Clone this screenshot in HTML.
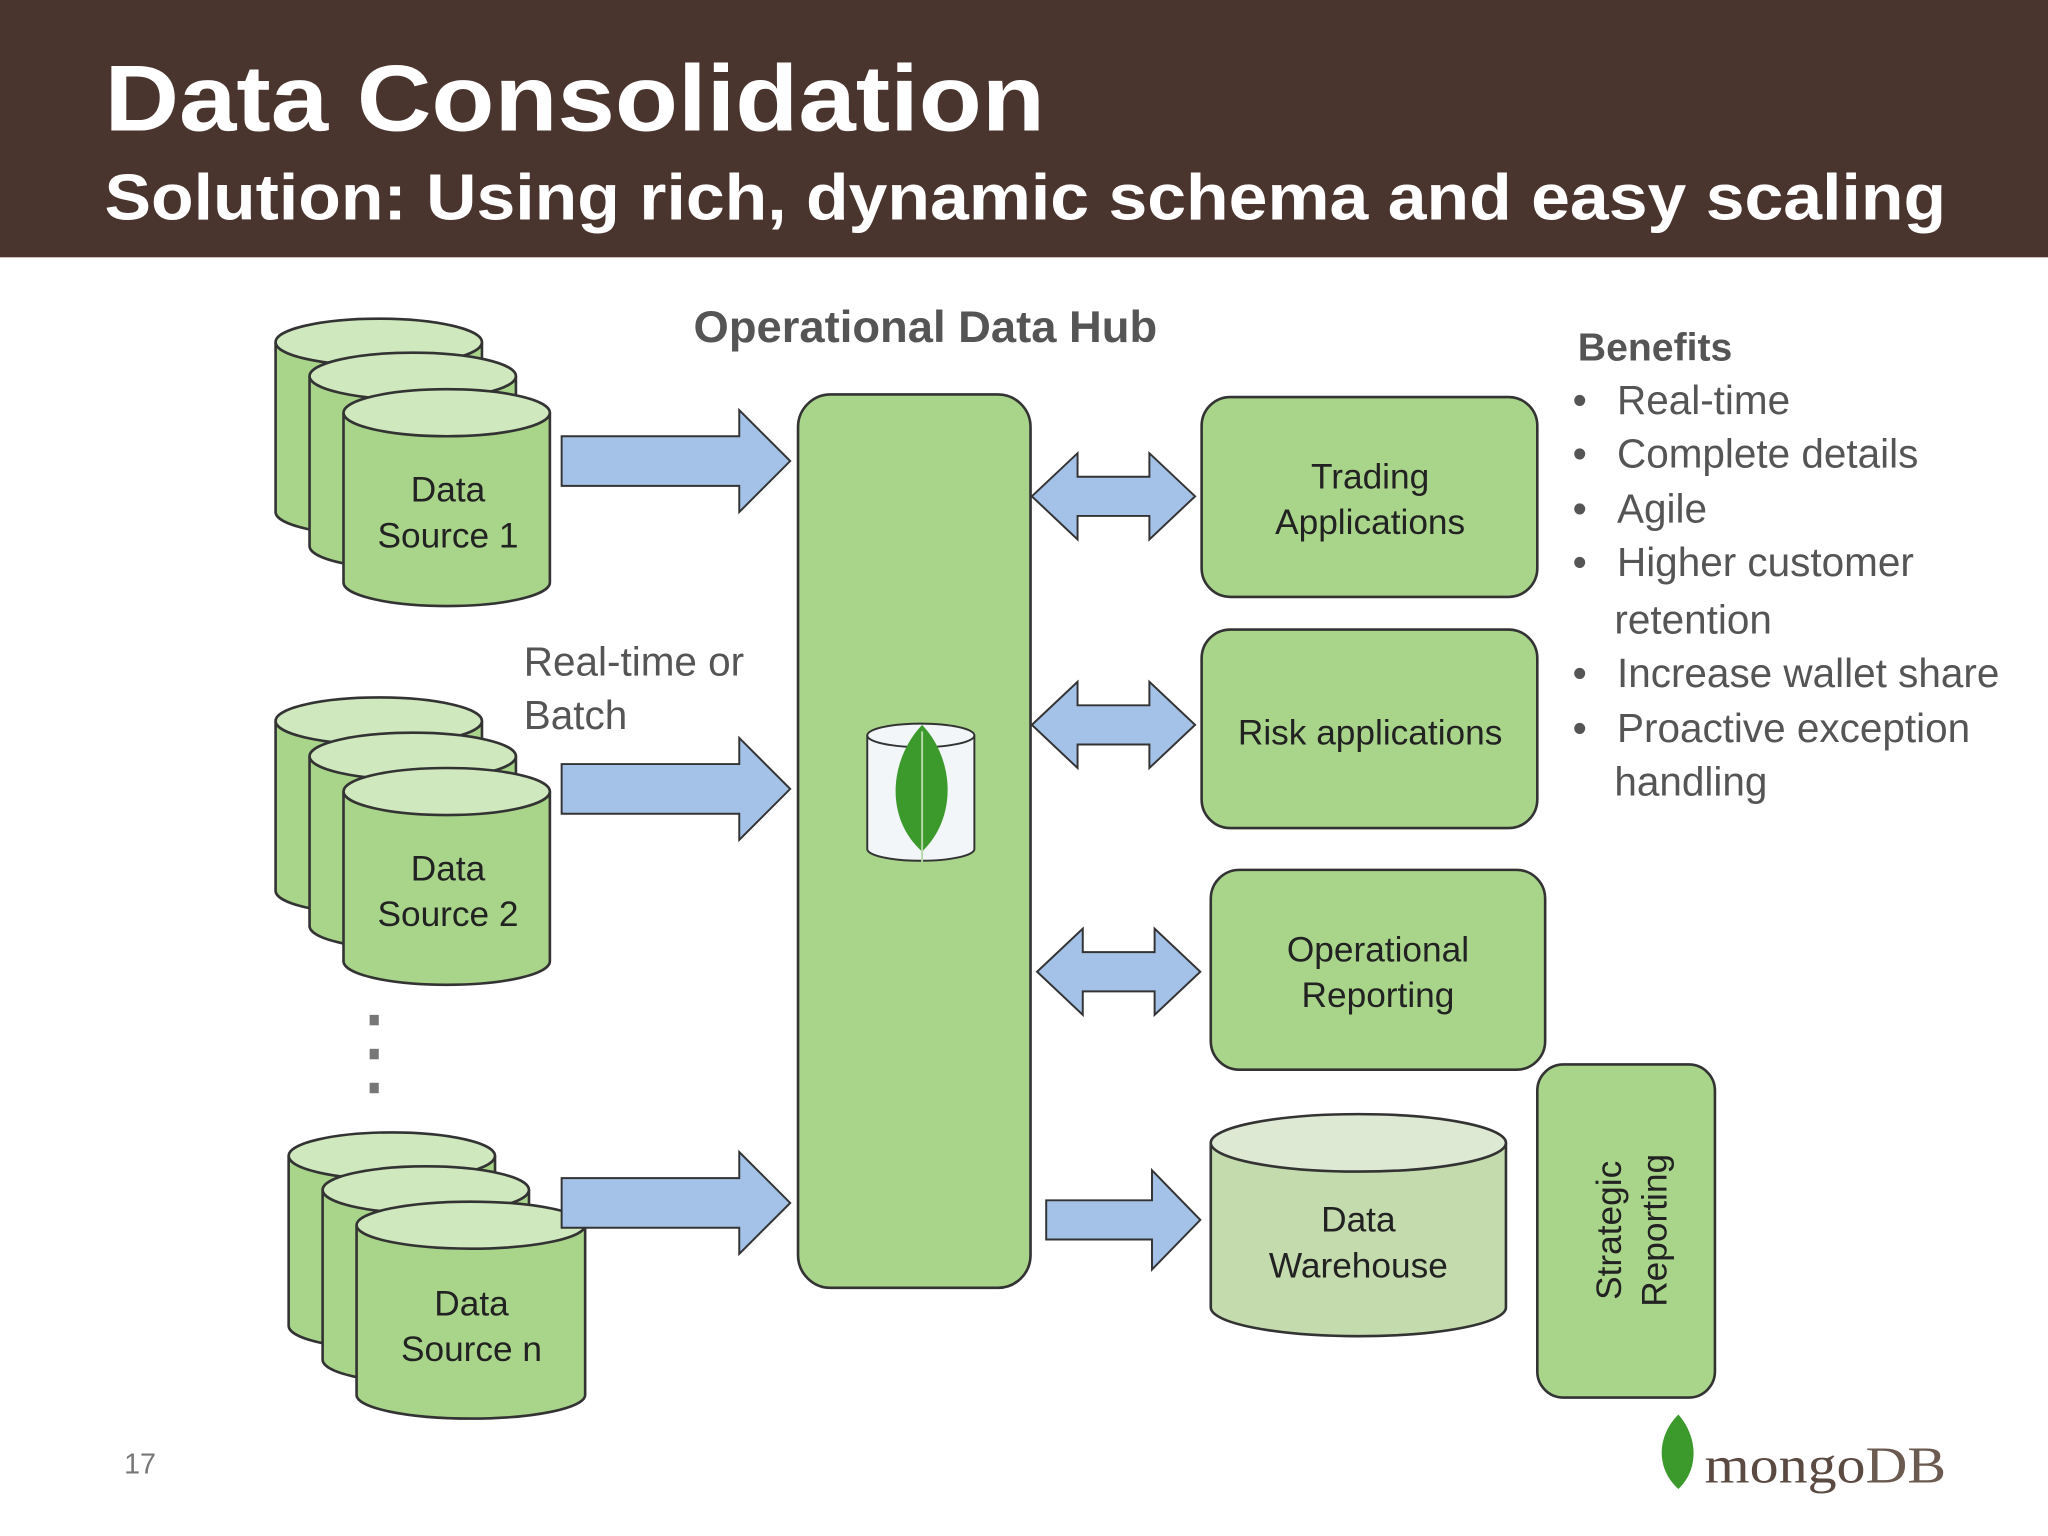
<!DOCTYPE html>
<html><head><meta charset="utf-8"><style>
html,body{margin:0;padding:0;background:#fff;}
svg{display:block;}
text{font-family:"Liberation Sans",sans-serif;}
</style></head><body>
<svg width="2048" height="1536" viewBox="0 0 1568 1176" xmlns="http://www.w3.org/2000/svg">
<defs>
<g id="cyl">
 <path d="M0,18 L0,148 A79,18 0 0 0 158,148 L158,18" fill="#a9d58a" stroke="#333" stroke-width="2"/>
 <ellipse cx="79" cy="18" rx="79" ry="18" fill="#cfe8bd" stroke="#333" stroke-width="2"/>
</g>
<g id="cylw">
 <path d="M0,18 L0,148 A87,18 0 0 0 175,148 L175,18" fill="#a9d58a" stroke="#333" stroke-width="2"/>
 <ellipse cx="87.5" cy="18" rx="87.5" ry="18" fill="#cfe8bd" stroke="#333" stroke-width="2"/>
</g>
<path id="rarr" d="M0,-19 L136,-19 L136,-39 L175,0 L136,39 L136,19 L0,19 Z" fill="#a4c2e8" stroke="#333" stroke-width="1.5"/>
<path id="darr" d="M0,0 L35,-33 L35,-15 L90,-15 L90,-33 L125,0 L90,33 L90,15 L35,15 L35,33 Z" fill="#a4c2e8" stroke="#333" stroke-width="1.5"/>
</defs>
<rect x="0" y="0" width="1568" height="197" fill="#4a342e"/>
<text x="80" y="100" font-size="72" font-weight="bold" fill="#fff" textLength="720" lengthAdjust="spacingAndGlyphs">Data Consolidation</text>
<text x="80" y="168" font-size="50" font-weight="bold" fill="#fff" textLength="1410" lengthAdjust="spacingAndGlyphs">Solution: Using rich, dynamic schema and easy scaling</text>

<text x="531" y="262" font-size="34" font-weight="bold" fill="#555" textLength="355" lengthAdjust="spacingAndGlyphs">Operational Data Hub</text>

<use href="#cyl" x="211" y="244"/><use href="#cyl" x="237" y="270"/><use href="#cyl" x="263" y="298"/>
<text x="343" y="384" font-size="27" text-anchor="middle" fill="#222">Data</text>
<text x="343" y="419" font-size="27" text-anchor="middle" fill="#222">Source 1</text>

<use href="#cyl" x="211" y="534"/><use href="#cyl" x="237" y="561"/><use href="#cyl" x="263" y="588"/>
<text x="343" y="674" font-size="27" text-anchor="middle" fill="#222">Data</text>
<text x="343" y="709" font-size="27" text-anchor="middle" fill="#222">Source 2</text>

<rect x="283" y="777" width="7" height="8" fill="#777"/><rect x="283" y="803" width="7" height="8" fill="#777"/><rect x="283" y="829" width="7" height="8" fill="#777"/>

<use href="#cyl" x="221" y="867"/><use href="#cyl" x="247" y="893"/><use href="#cylw" x="273" y="920"/>
<text x="361" y="1007" font-size="27" text-anchor="middle" fill="#222">Data</text>
<text x="361" y="1042" font-size="27" text-anchor="middle" fill="#222">Source n</text>

<text x="401" y="517" font-size="31" fill="#555">Real-time or</text>
<text x="401" y="558" font-size="31" fill="#555">Batch</text>

<use href="#rarr" x="430" y="353"/>
<use href="#rarr" x="430" y="604"/>
<use href="#rarr" x="430" y="921"/>

<rect x="611" y="302" width="178" height="684" rx="25" fill="#a9d58a" stroke="#333" stroke-width="2"/>
<path d="M664,563 L664,650 A41,9 0 0 0 746,650 L746,563" fill="#f2f6f8" stroke="#333" stroke-width="1.5"/>
<ellipse cx="705" cy="563" rx="41" ry="9" fill="#f2f6f8" stroke="#333" stroke-width="1.5"/>
<path d="M706,555 C682,580 676,625 706,652 C734,625 730,580 706,555 Z" fill="#3c9a2c"/>
<line x1="706" y1="560" x2="706" y2="660" stroke="#b7d8a8" stroke-width="1.5"/>

<use href="#darr" x="790" y="380"/>
<use href="#darr" x="790" y="555"/>
<use href="#darr" x="794" y="744"/>
<path d="M801,919 L882,919 L882,896 L919,934 L882,972 L882,949 L801,949 Z" fill="#a4c2e8" stroke="#333" stroke-width="1.5"/>

<rect x="920" y="304" width="257" height="153" rx="22" fill="#a9d58a" stroke="#333" stroke-width="2"/>
<text x="1049" y="374" font-size="27" text-anchor="middle" fill="#222">Trading</text>
<text x="1049" y="409" font-size="27" text-anchor="middle" fill="#222">Applications</text>
<rect x="920" y="482" width="257" height="152" rx="22" fill="#a9d58a" stroke="#333" stroke-width="2"/>
<text x="1049" y="570" font-size="27" text-anchor="middle" fill="#222">Risk applications</text>
<rect x="927" y="666" width="256" height="153" rx="22" fill="#a9d58a" stroke="#333" stroke-width="2"/>
<text x="1055" y="736" font-size="27" text-anchor="middle" fill="#222">Operational</text>
<text x="1055" y="771" font-size="27" text-anchor="middle" fill="#222">Reporting</text>

<path d="M927,875 L927,1001 A113,22 0 0 0 1153,1001 L1153,875" fill="#c3dbad" stroke="#333" stroke-width="2"/>
<ellipse cx="1040" cy="875" rx="113" ry="22" fill="#dde9d2" stroke="#333" stroke-width="2"/>
<text x="1040" y="943" font-size="27" text-anchor="middle" fill="#222">Data</text>
<text x="1040" y="978" font-size="27" text-anchor="middle" fill="#222">Warehouse</text>

<rect x="1177" y="815" width="136" height="255" rx="20" fill="#a9d58a" stroke="#333" stroke-width="2"/>
<text transform="translate(1241,942) rotate(-90)" font-size="27" text-anchor="middle" fill="#222">Strategic</text>
<text transform="translate(1276,942) rotate(-90)" font-size="27" text-anchor="middle" fill="#222">Reporting</text>

<g font-size="31" fill="#555">
<text x="1208" y="276" font-weight="bold" font-size="30">Benefits</text>
<text x="1204" y="317">•</text><text x="1238" y="317">Real-time</text>
<text x="1204" y="358">•</text><text x="1238" y="358">Complete details</text>
<text x="1204" y="400">•</text><text x="1238" y="400">Agile</text>
<text x="1204" y="441">•</text><text x="1238" y="441">Higher customer</text>
<text x="1236" y="485">retention</text>
<text x="1204" y="526">•</text><text x="1238" y="526">Increase wallet share</text>
<text x="1204" y="568">•</text><text x="1238" y="568">Proactive exception</text>
<text x="1236" y="609">handling</text>
</g>

<text x="95" y="1128" font-size="22" fill="#777">17</text>
<path d="M1285,1083 C1268,1100 1268,1125 1285,1140 C1301,1125 1300,1100 1285,1083 Z" fill="#3c9a2c"/>
<text x="1305" y="1135" font-size="40" fill="#5a4a42" style="font-family:'Liberation Serif',serif" textLength="185" lengthAdjust="spacingAndGlyphs">mongo<tspan fill="#6b5a50">DB</tspan></text>
</svg>
</body></html>
